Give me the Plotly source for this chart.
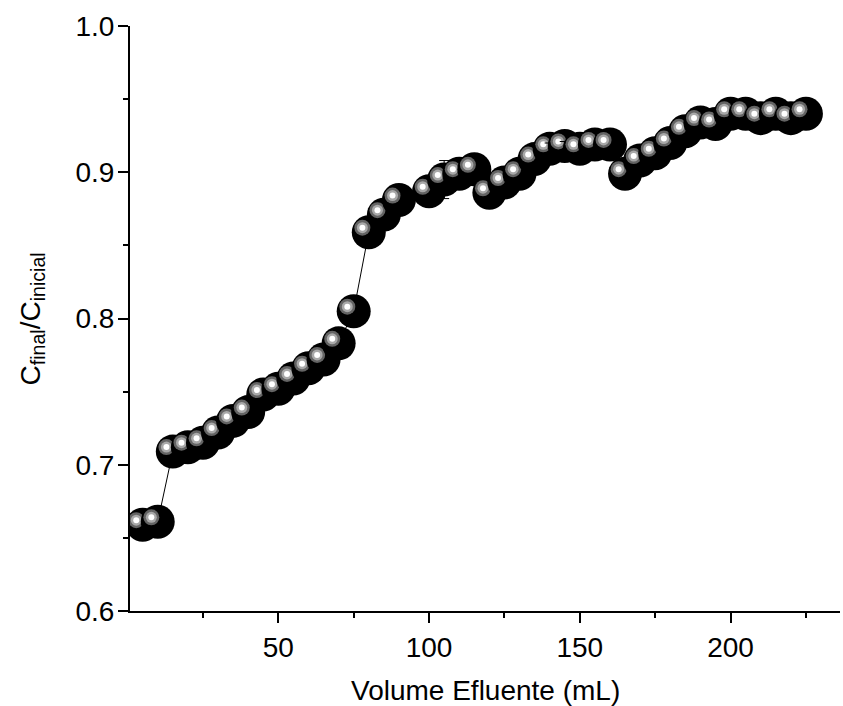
import plotly.graph_objects as go

# ---- data ----
volume_ml = [5, 10, 15, 20, 25, 30, 35, 40, 45, 50, 55, 60, 65, 70, 75, 80, 85, 90,
             100, 105, 110, 115, 120, 125, 130, 135, 140, 145, 150, 155, 160, 165,
             170, 175, 180, 185, 190, 195, 200, 205, 210, 215, 220, 225]
c_ratio = [0.659, 0.661, 0.709, 0.712, 0.715, 0.722, 0.730, 0.736, 0.748, 0.752,
           0.759, 0.766, 0.772, 0.783, 0.805, 0.859, 0.871, 0.881,
           0.887, 0.895, 0.899, 0.902, 0.886, 0.893, 0.899, 0.909, 0.916, 0.918,
           0.916, 0.919, 0.919, 0.899, 0.908, 0.913, 0.920, 0.928, 0.934, 0.933,
           0.940, 0.940, 0.937, 0.940, 0.937, 0.940]
c_err = [0, 0, 0, 0, 0, 0, 0, 0, 0, 0, 0, 0, 0, 0, 0, 0, 0, 0,
         0, 0.013, 0, 0, 0, 0, 0, 0, 0.004, 0.003, 0, 0, 0, 0,
         0, 0, 0, 0, 0, 0, 0, 0, 0, 0, 0, 0]
x_tickvals = [50, 100, 150, 200]
y_tickvals = [0.6, 0.7, 0.8, 0.9, 1.0]

# ---- layout constants ----
W, H = 843, 706
ML, MR, MT, MB = 130, 3, 26, 95
X_RANGE = [0.8, 236.3]
Y_RANGE = [0.6, 1.0]
FONT = "Liberation Sans, Arial, sans-serif"
FS = 28

# pixel offset of the sphere highlight (up-left), converted to data units
plot_w = W - ML - MR
plot_h = H - MT - MB
dx = -6.4 * (X_RANGE[1] - X_RANGE[0]) / plot_w
dy = 4.5 * (Y_RANGE[1] - Y_RANGE[0]) / plot_h

fig = go.Figure()

# thin connecting line
fig.add_trace(go.Scatter(x=volume_ml, y=c_ratio, mode="lines",
                         line=dict(color="black", width=1), hoverinfo="skip",
                         showlegend=False))

# spheres drawn point by point so later spheres overlap earlier ones
for xv, yv, ev in zip(volume_ml, c_ratio, c_err):
    fig.add_trace(go.Scatter(x=[xv], y=[yv], mode="markers",
                             marker=dict(size=34, color="black", line=dict(width=0)),
                             showlegend=False))
    hx, hy = xv + dx, yv + dy
    fig.add_trace(go.Scatter(x=[hx], y=[hy], mode="markers",
                             marker=dict(size=16, color="#646464", line=dict(width=0)),
                             showlegend=False, hoverinfo="skip"))
    fig.add_trace(go.Scatter(x=[hx], y=[hy], mode="markers",
                             marker=dict(size=11, color="#a8a8a8", line=dict(width=0)),
                             showlegend=False, hoverinfo="skip"))
    fig.add_trace(go.Scatter(x=[hx], y=[hy], mode="markers",
                             marker=dict(size=6, color="white", line=dict(width=0)),
                             showlegend=False, hoverinfo="skip"))
    if ev > 0:
        fig.add_trace(go.Scatter(x=[xv], y=[yv], mode="markers",
                                 marker=dict(size=1, color="rgba(0,0,0,0)"),
                                 error_y=dict(type="data", array=[ev], color="black",
                                              thickness=1, width=5),
                                 showlegend=False, hoverinfo="skip"))

axis_common = dict(showline=True, linecolor="black", linewidth=2, mirror=False,
                   ticks="outside", ticklen=10, tickwidth=2, tickcolor="black",
                   showgrid=False, zeroline=False,
                   tickfont=dict(family=FONT, size=FS, color="black"))

fig.update_xaxes(range=X_RANGE, tickvals=x_tickvals, ticktext=[str(v) for v in x_tickvals],
                 minor=dict(ticks="outside", ticklen=5, tickwidth=2, tickcolor="black",
                            dtick=25, tick0=25, showgrid=False),
                 ticklabelstandoff=0,
                 **axis_common)
fig.update_yaxes(range=Y_RANGE, tickvals=y_tickvals, ticktext=[f"{v:.1f}" for v in y_tickvals],
                 minor=dict(ticks="outside", ticklen=5, tickwidth=2, tickcolor="black",
                            dtick=0.05, tick0=0.05, showgrid=False),
                 ticklabelstandoff=-2,
                 **axis_common)

fig.add_annotation(text="Volume Efluente (mL)", xref="paper", yref="paper",
                   x=0.5, y=-(690 - 611) / plot_h, xanchor="center", yanchor="middle",
                   showarrow=False, font=dict(family=FONT, size=FS, color="black"))
fig.add_annotation(text="C<sub>final</sub>/C<sub>inicial</sub>", xref="paper", yref="paper",
                   x=(32 - ML) / plot_w, y=0.5, xanchor="center", yanchor="middle",
                   textangle=-90, showarrow=False,
                   font=dict(family=FONT, size=FS, color="black"))

fig.update_layout(width=W, height=H, margin=dict(l=ML, r=MR, t=MT, b=MB, pad=0),
                  plot_bgcolor="white", paper_bgcolor="white", showlegend=False,
                  font=dict(family=FONT, color="black"))

fig.write_html("out.html")
